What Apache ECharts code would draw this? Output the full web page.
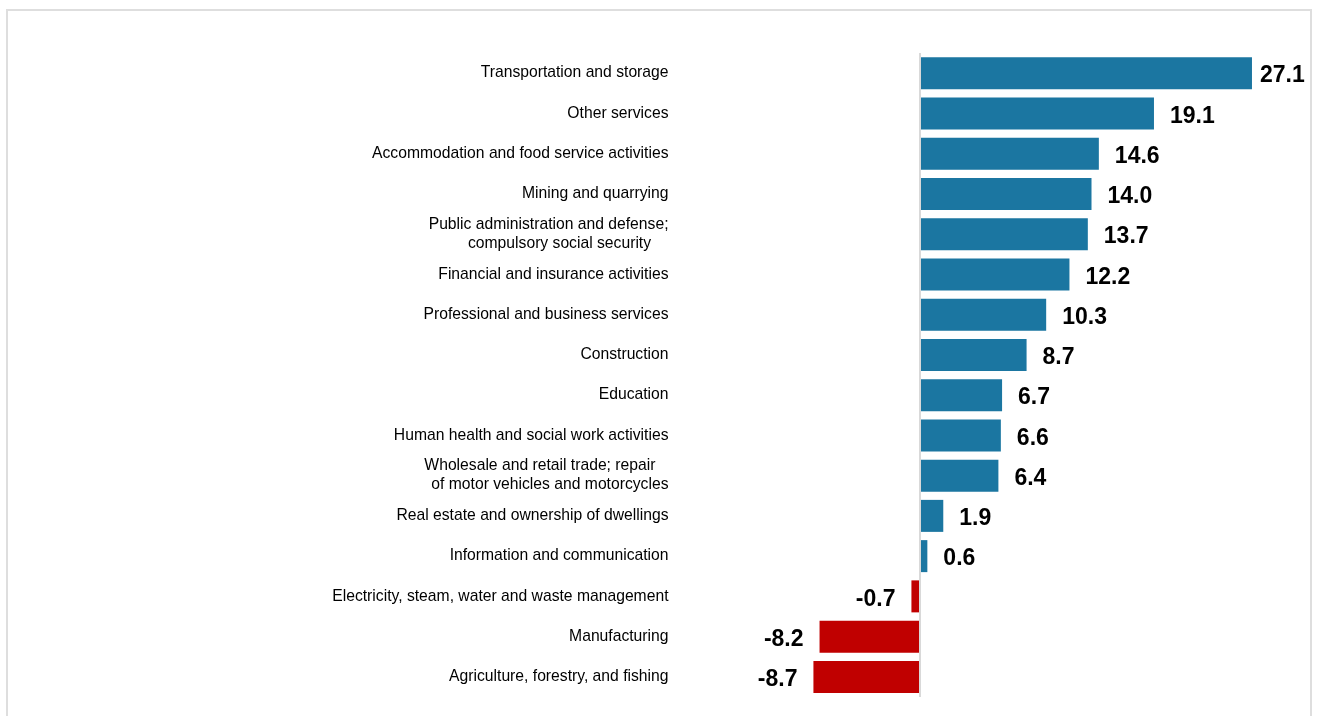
<!DOCTYPE html>
<html>
<head>
<meta charset="utf-8">
<script src="https://cdn.jsdelivr.net/npm/echarts@6/dist/echarts.min.js"></script>
<style>
html,body{margin:0;padding:0;background:#fff;width:1322px;height:716px;overflow:hidden;}
#frame{position:absolute;left:6px;top:9px;width:1306px;height:720px;border:2px solid #dedede;box-sizing:border-box;}
#chart{position:absolute;left:0;top:0;width:1322px;height:716px;}
</style>
</head>
<body>
<div id="frame"></div>
<div id="chart"></div>
<script>
const NB = '\u00a0';
const categories = [
  'Transportation and storage',
  'Other services',
  'Accommodation and food service activities',
  'Mining and quarrying',
  'Public administration and defense;\ncompulsory social security' + NB.repeat(4),
  'Financial and insurance activities',
  'Professional and business services',
  'Construction',
  'Education',
  'Human health and social work activities',
  'Wholesale and retail trade; repair' + NB.repeat(3) + '\nof motor vehicles and motorcycles',
  'Real estate and ownership of dwellings',
  'Information and communication',
  'Electricity, steam, water and waste management',
  'Manufacturing',
  'Agriculture, forestry, and fishing'
];
const values = [27.1, 19.1, 14.6, 14.0, 13.7, 12.2, 10.3, 8.7, 6.7, 6.6, 6.4, 1.9, 0.6, -0.7, -8.2, -8.7];

const BLUE = '#1b76a1', RED = '#c00000';
const chart = echarts.init(document.getElementById('chart'));
chart.setOption({
  animation: false,
  grid: { left: 797.5, right: 34.5, top: 53, bottom: 19, containLabel: false },
  xAxis: {
    type: 'value', min: -10, max: 30, show: false
  },
  yAxis: {
    type: 'category', data: categories, inverse: true,
    axisLine: { show: false, onZero: false },
    axisTick: { show: false },
    splitLine: { show: false },
    axisLabel: {
      margin: 129, color: '#000', fontSize: 15.7, lineHeight: 19,
      fontFamily: 'Liberation Sans, Arial, sans-serif', align: 'right',
      padding: [4, 0, 0, 0]
    }
  },
  series: [{
    type: 'bar',
    barWidth: 32,
    data: values.map((v, i) => ({
      value: v,
      itemStyle: { color: v >= 0 ? BLUE : RED },
      label: {
        position: v >= 0 ? 'right' : 'left',
        distance: i === 0 ? 8 : 16
      }
    })),
    label: {
      show: true, color: '#000', fontSize: 23, fontWeight: 'bold',
      fontFamily: 'Liberation Sans, Arial, sans-serif',
      offset: [0, 3],
      formatter: p => p.value.toFixed(1)
    },
    markLine: {
      silent: true, symbol: 'none', label: { show: false },
      lineStyle: { color: '#d9d9d9', width: 2, type: 'solid' },
      data: [{ xAxis: 0 }]
    }
  }]
});
</script>
</body>
</html>
